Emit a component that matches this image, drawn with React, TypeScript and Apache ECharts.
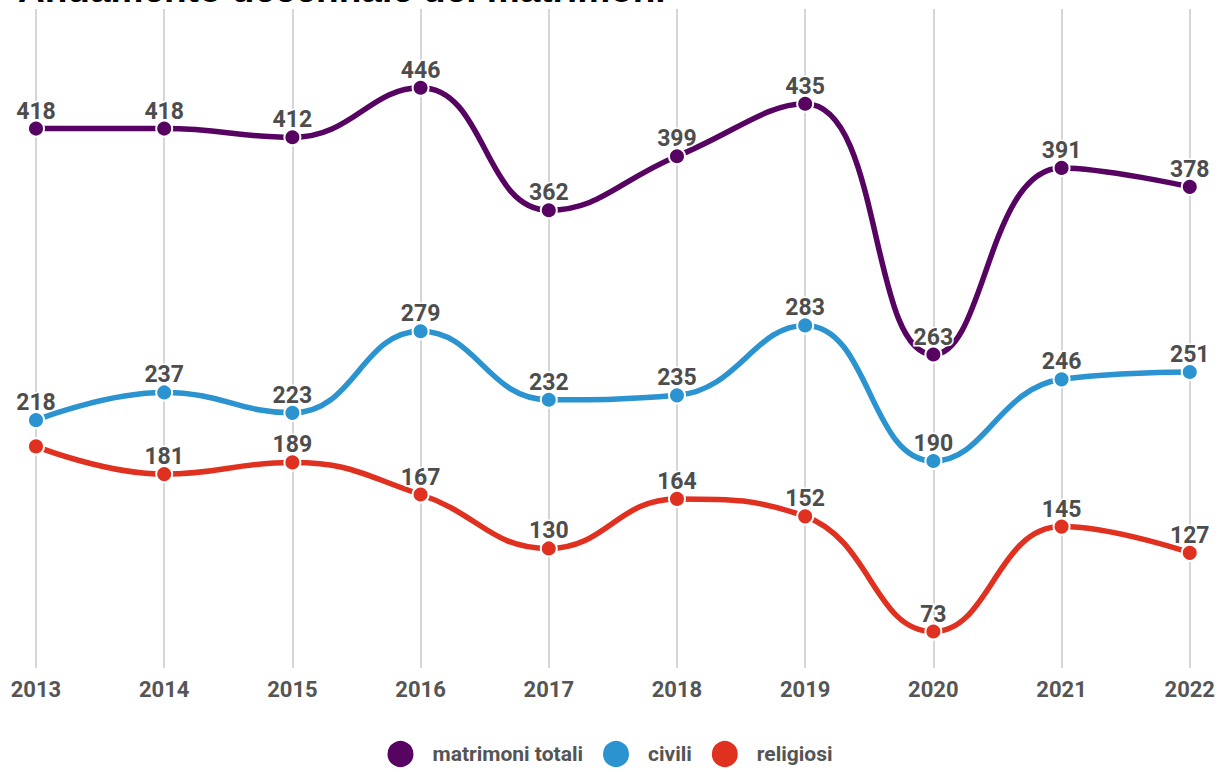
import React, { useEffect, useRef } from "react";
import * as echarts from "echarts";

const years = ["2013", "2014", "2015", "2016", "2017", "2018", "2019", "2020", "2021", "2022"];
const totali = [418, 418, 412, 446, 362, 399, 435, 263, 391, 378];
const civili = [218, 237, 223, 279, 232, 235, 283, 190, 246, 251];
const religiosi = [200, 181, 189, 167, 130, 164, 152, 73, 145, 127];
const hiddenLabels: Record<string, number[]> = { religiosi: [0] };

const titleText = "Andamento decennale dei matrimoni";

const COLORS = {
  "matrimoni totali": "#560361",
  civili: "#2a93d0",
  religiosi: "#e0301f",
};

export default function App() {
  const ref = useRef<HTMLDivElement>(null);
  useEffect(() => {
    if (!ref.current) return;
    const chart = echarts.init(ref.current, undefined, { renderer: "svg" });
    const mk = (name: string, data: number[], key: string) => ({
      name,
      type: "line",
      smooth: 0.45,
      data: data.map((v, i) =>
        (hiddenLabels[key] || []).includes(i) ? { value: v, label: { show: false } } : v
      ),
      symbol: "circle",
      symbolSize: 16,
      lineStyle: { width: 5.5, color: (COLORS as any)[name] },
      itemStyle: { color: (COLORS as any)[name], borderColor: "#fff", borderWidth: 2 },
      label: {
        show: true,
        position: "top",
        distance: -3,
        fontFamily: "Roboto",
        fontWeight: "bold",
        fontSize: 23,
        color: "#4d4d4d",
        textBorderColor: "#fff",
        textBorderWidth: 3,
      },
      z: 3,
    });
    chart.setOption({
      animation: false,
      backgroundColor: "#fff",
      graphic: [
        {
          type: "text",
          left: 18,
          top: -29,
          style: {
            text: titleText,
            fontFamily: "Liberation Sans",
            fontWeight: "bold",
            fontSize: 37,
            fill: "#000",
          },
        },
      ],
      grid: { left: 36, right: 27, top: 9, bottom: 104, containLabel: false },
      xAxis: {
        type: "category",
        data: years,
        boundaryGap: false,
        axisLine: { show: false },
        axisTick: { show: false },
        splitLine: { show: true, lineStyle: { color: "#c8c8c8", width: 1.5 } },
        axisLabel: {
          margin: 10,
          fontFamily: "Roboto",
          fontWeight: "bold",
          fontSize: 22,
          color: "#555",
        },
      },
      yAxis: {
        type: "value",
        min: 48,
        max: 500,
        show: false,
        splitLine: { show: false },
      },
      legend: {
        bottom: -2,
        left: "center",
        icon: "circle",
        itemWidth: 28,
        itemHeight: 28,
        itemGap: 18,
        textStyle: {
          fontFamily: "Roboto",
          fontWeight: "bold",
          fontSize: 21,
          color: "#555",
          padding: [0, 0, 0, 13],
        },
        data: ["matrimoni totali", "civili", "religiosi"],
      },
      series: [
        mk("matrimoni totali", totali, "totali"),
        mk("civili", civili, "civili"),
        mk("religiosi", religiosi, "religiosi"),
      ],
    });
    return () => chart.dispose();
  }, []);
  return <div ref={ref} style={{ width: 1218, height: 772, position: "absolute", left: 0, top: 0 }} />;
}
